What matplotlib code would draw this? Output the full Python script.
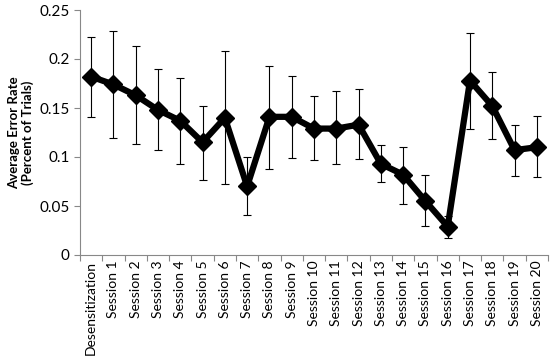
import matplotlib
matplotlib.use("Agg")
import matplotlib.pyplot as plt
import numpy as np

categories = ["Desensitization"] + [f"Session {i}" for i in range(1, 21)]
means = [0.182, 0.174, 0.163, 0.148, 0.137, 0.115, 0.140, 0.070, 0.141, 0.141,
         0.129, 0.129, 0.133, 0.093, 0.082, 0.055, 0.029, 0.178, 0.152, 0.107, 0.110]
upper = [0.222, 0.229, 0.213, 0.190, 0.181, 0.152, 0.208, 0.100, 0.193, 0.183,
         0.162, 0.167, 0.169, 0.112, 0.110, 0.082, 0.040, 0.227, 0.187, 0.133, 0.142]
lower = [0.141, 0.119, 0.113, 0.107, 0.093, 0.077, 0.072, 0.041, 0.088, 0.099,
         0.097, 0.093, 0.098, 0.074, 0.052, 0.030, 0.017, 0.129, 0.118, 0.081, 0.080]
yticks = [0, 0.05, 0.1, 0.15, 0.2, 0.25]
ytick_labels = ["0", "0.05", "0.1", "0.15", "0.2", "0.25"]

plt.rcParams['font.family'] = ['Lato', 'DejaVu Sans']

fig = plt.figure(figsize=(5.5, 3.57), dpi=100)
ax = fig.add_axes([80/550, 1-255/357, 468/550, 245/357])

x = np.arange(len(categories))
m = np.array(means)
yerr = [m - np.array(lower), np.array(upper) - m]
ax.errorbar(x, m, yerr=yerr, fmt='none', ecolor='black', elinewidth=0.8,
            capsize=3, capthick=0.8, zorder=2)
ax.plot(x, m, color='black', lw=4.5, marker='D', markersize=9.5, zorder=3)

ax.set_xlim(-0.5, len(categories) - 0.5)
ax.set_ylim(0, 0.25)
ax.set_yticks(yticks)
ax.set_yticklabels(ytick_labels, fontsize=11)

ax.set_xticks(np.arange(-0.5, len(categories), 1.0))
ax.set_xticklabels([])
ax.tick_params(axis='x', which='major', length=4, color='#888888')
ax.set_xticks(x, minor=True)
ax.set_xticklabels(categories, minor=True, rotation=90, fontsize=10)
ax.tick_params(axis='x', which='minor', length=0, pad=4)
ax.tick_params(axis='y', length=4, color='#888888')

for s in ['top', 'right']:
    ax.spines[s].set_visible(False)
for s in ['left', 'bottom']:
    ax.spines[s].set_color('#888888')
    ax.spines[s].set_linewidth(0.8)

ax.set_ylabel("Average Error Rate\n(Percent of Trials)", fontsize=9.5,
              fontweight='bold', labelpad=4, linespacing=1.1)

fig.savefig("out.png", dpi=100)
